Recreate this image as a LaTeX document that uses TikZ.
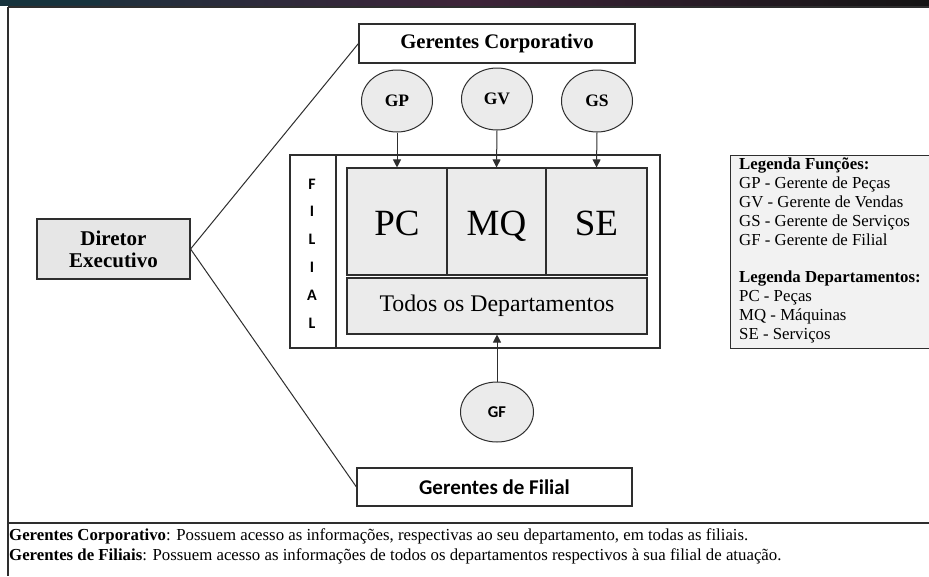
\documentclass[tikz,border=0pt]{standalone}
\usepackage{fontspec}
\setmainfont{Liberation Serif}
\newfontfamily\calibri{Carlito}
\usetikzlibrary{arrows.meta,shapes.geometric}
\definecolor{boxgray}{HTML}{E6E6E6}
\definecolor{cellgray}{HTML}{EBEBEB}
\definecolor{leggray}{HTML}{F2F2F2}
\definecolor{linegray}{HTML}{2E2E2E}
\definecolor{bannerteal}{HTML}{17333D}
\definecolor{bannerpurple}{HTML}{3E2439}
\definecolor{bannerdark}{HTML}{141414}
\tikzset{
  rectbox/.style={draw=linegray, line width=1.1pt, inner sep=0pt},
  oval/.style={ellipse, draw=linegray, line width=1pt, fill=cellgray, inner sep=0pt, minimum width=71pt, minimum height=62pt},
  conn/.style={draw=linegray, line width=1pt},
  arr/.style={conn, -{Triangle[width=8pt,length=8pt]}},
  frameline/.style={draw=linegray, line width=1.8pt},
  dept/.style={rectbox, fill=cellgray, minimum height=107pt, text height=27pt, text depth=0pt, font=\fontsize{37}{37}\selectfont}
}
\begin{document}
\begin{tikzpicture}[x=1pt,y=-1pt]
\clip (0,0) rectangle (929,576);
\useasboundingbox (0,0) rectangle (929,576);
\fill[white] (0,0) rectangle (929,576);
% banner
\shade[left color=bannerteal, right color=bannerdark, middle color=bannerpurple, shading angle=90] (0,0) rectangle (929,5);
\fill[bannerteal] (0,0) rectangle (100,5);
% frame
\draw[frameline] (8,7) -- (929,7);
\draw[draw=linegray, line width=1.1pt] (8,7) -- (8,576);
\draw[frameline] (8,523) -- (929,523);

% Diretor
\node[rectbox, fill=boxgray, minimum width=153pt, minimum height=60pt, align=center, font=\fontsize{21}{22}\selectfont\bfseries] (dir) at (113.5,249) {Diretor\\Executivo};

% Gerentes corporativo / filial
\node[rectbox, fill=white, minimum width=276pt, minimum height=39pt, font=\fontsize{20.7}{22}\selectfont\bfseries] (gcorp) at (497,43.5) {Gerentes Corporativo};
\node[rectbox, fill=white, minimum width=275pt, minimum height=38pt, font=\calibri\fontsize{21}{22}\selectfont\bfseries] (gfil) at (494.5,487) {Gerentes de Filial};

\draw[conn] (dir.east) -- (gcorp.west);
\draw[conn] (dir.east) -- (gfil.west);

% Filial outer
\draw[draw=linegray, line width=1.1pt] (290,155) rectangle (660,348);
\draw[draw=linegray, line width=1.1pt] (336,155) -- (336,348);
\foreach \L [count=\i from 0] in {F,I,L,I,A,L}{
  \node[font=\calibri\fontsize{16}{16}\selectfont\bfseries] (fl\i) at (312,{184+27.8*\i}) {\L};
}

% departments
\node[dept, minimum width=100pt] (pc) at (397,221.5) {PC};
\node[dept, minimum width=99pt] (mq) at (496.5,221.5) {MQ};
\node[dept, minimum width=101pt] (se) at (596.5,221.5) {SE};
\node[rectbox, fill=cellgray, minimum width=300pt, minimum height=56pt, font=\fontsize{23.8}{24}\selectfont] (todos) at (497,306) {Todos os Departamentos};

% managers
\node[oval, font=\fontsize{17.5}{17.5}\selectfont\bfseries] (gp) at (397,101) {GP};
\node[oval, font=\fontsize{17.5}{17.5}\selectfont\bfseries] (gv) at (497,99) {GV};
\node[oval, font=\fontsize{17.5}{17.5}\selectfont\bfseries] (gs) at (597,101) {GS};
\node[oval, minimum width=73pt, minimum height=60pt, font=\calibri\fontsize{16.5}{16.5}\selectfont\bfseries] (gf) at (497,412) {GF};

\draw[arr] (gp.south) -- (pc.north);
\draw[arr] (gv.south) -- (mq.north);
\draw[arr] (gs.south) -- (se.north);
\draw[arr] (gf.north) -- (todos.south);

% legend
\node[draw=linegray, line width=1.1pt, fill=leggray, minimum width=210pt, minimum height=193pt, anchor=north west] (legbox) at (730,155) {};
\node[anchor=north west, inner sep=0pt, align=left, font=\fontsize{16.8}{18.9}\selectfont] (legtext) at (739,157.5) {%
\textbf{Legenda Funções:}\\
GP - Gerente de Peças\\
GV - Gerente de Vendas\\
GS - Gerente de Serviços\\
GF - Gerente de Filial\\[18.9pt]
\textbf{Legenda Departamentos:}\\
PC - Peças\\
MQ - Máquinas\\
SE - Serviços};

% footnotes
\node[anchor=west, inner sep=0pt, font=\fontsize{16.8}{18}\selectfont] (note1) at (9,536) {\textbf{Gerentes Corporativo}: Possuem acesso as informações, respectivas ao seu departamento, em todas as filiais.};
\node[anchor=west, inner sep=0pt, font=\fontsize{16.8}{18}\selectfont] (note2) at (9,556) {\textbf{Gerentes de Filiais}: Possuem acesso as informações de todos os departamentos respectivos à sua filial de atuação.};
\end{tikzpicture}
\end{document}
